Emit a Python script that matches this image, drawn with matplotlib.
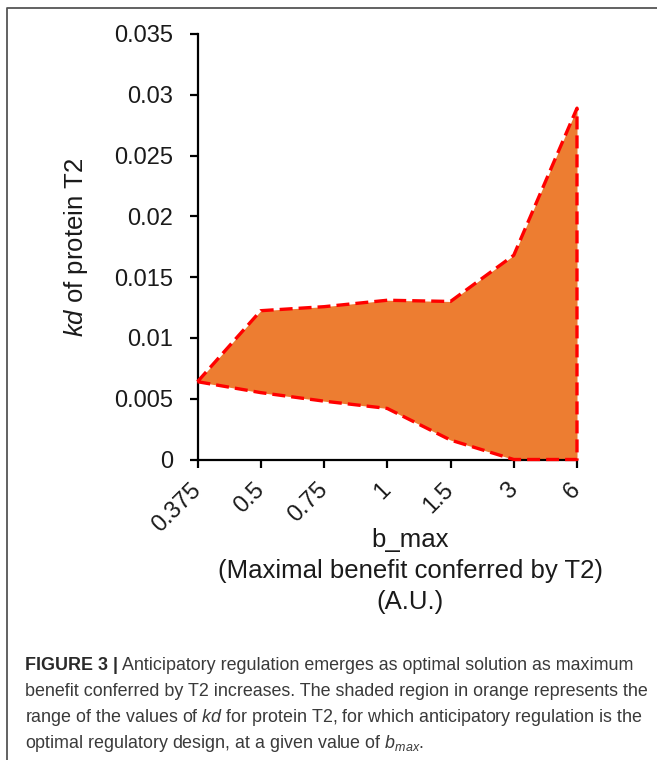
import numpy as np
import matplotlib
matplotlib.use("Agg")
import matplotlib.pyplot as plt
from matplotlib.lines import Line2D

# ---- data ----
categories = ["0.375", "0.5", "0.75", "1", "1.5", "3", "6"]
kd_upper = [0.0064, 0.01224, 0.01257, 0.0131, 0.0130, 0.0168, 0.0289]
kd_lower = [0.0064, 0.0055, 0.0048, 0.0042, 0.0016, 0.0000, 0.0000]
y_ticks = [0, 0.005, 0.01, 0.015, 0.02, 0.025, 0.03, 0.035]
y_ticklabels = ["0", "0.005", "0.01", "0.015", "0.02", "0.025", "0.03", "0.035"]

plt.rcParams['font.family'] = ['Liberation Sans', 'DejaVu Sans']
plt.rcParams['mathtext.fontset'] = 'custom'
plt.rcParams['mathtext.rm'] = 'Liberation Sans'
plt.rcParams['mathtext.it'] = 'Liberation Sans:italic'
plt.rcParams['mathtext.bf'] = 'Liberation Sans:bold'

W, H = 657, 760
fig = plt.figure(figsize=(W / 100, H / 100), dpi=100)
fig.patch.set_facecolor('white')

left, right, bottom, top = 197.5, 577, 459.5, 34
ax = fig.add_axes([left / W, 1 - bottom / H, (right - left) / W, (bottom - top) / H])

x = np.arange(len(categories))
up = np.array(kd_upper)
lo = np.array(kd_lower)

ax.fill_between(x, lo, up, color='#ED7D31', lw=0, zorder=1)
xs = np.concatenate([x, x[::-1]])
ys = np.concatenate([up, lo[::-1]])
ax.plot(xs, ys, color='#FF0000', lw=2.4, linestyle=(0, (3.9, 1.8)),
        clip_on=False, zorder=3, solid_capstyle='butt', dash_capstyle='butt')

ax.set_xlim(0, len(categories) - 1)
ax.set_ylim(0, 0.035)
ax.set_yticks(y_ticks)
ax.set_yticklabels(y_ticklabels, fontsize=17, color='#1a1a1a')
ax.set_xticks(x)
ax.set_xticklabels(categories, fontsize=17, color='#1a1a1a', rotation=45,
                   ha='right', va='center', rotation_mode='anchor')

for s in ['top', 'right']:
    ax.spines[s].set_visible(False)
for s in ['left', 'bottom']:
    ax.spines[s].set_linewidth(1.6)
    ax.spines[s].set_color('black')
ax.tick_params(axis='both', direction='out', length=5.5, width=1.6, color='black')
ax.tick_params(axis='y', pad=12)
ax.tick_params(axis='x', pad=14)

ax.set_ylabel(r"$\it{kd}$ of protein T2", fontsize=18.5, color='#1a1a1a')
ax.yaxis.set_label_coords(-0.284, 0.5)

fig.text(410 / W, 1 - 540 / H, "b_max", ha='center', va='center', fontsize=18.5, color='#1a1a1a')
fig.text(410 / W, 1 - 571 / H, "(Maximal benefit conferred by T2)", ha='center', va='center',
         fontsize=18.5, color='#1a1a1a')
fig.text(410 / W, 1 - 602 / H, "(A.U.)", ha='center', va='center', fontsize=18.5, color='#1a1a1a')

# border
fig.add_artist(Line2D([7 / W, 7 / W, 1.0], [0.0, 1 - 7.5 / H, 1 - 7.5 / H],
                      transform=fig.transFigure, color='#555555', lw=1.3))

# caption
cap_color = '#3a3a3a'
cfs = 12.9
lines_y = [666, 692, 718, 744]
t = fig.text(25 / W, 1 - lines_y[0] / H, "FIGURE 3 |", fontsize=cfs, fontweight='bold',
             color='#2a2a2a', va='center')
plt.annotate(" Anticipatory regulation emerges as optimal solution as maximum",
             xy=(1, 0), xycoords=t, va='bottom', ha='left', fontsize=cfs, color=cap_color,
             annotation_clip=False)
fig.text(25 / W, 1 - lines_y[1] / H,
         "benefit conferred by T2 increases. The shaded region in orange represents the",
         fontsize=cfs, color=cap_color, va='center')
fig.text(25 / W, 1 - lines_y[2] / H,
         r"range of the values of $\it{kd}$ for protein T2, for which anticipatory regulation is the",
         fontsize=cfs, color=cap_color, va='center')
fig.text(25 / W, 1 - lines_y[3] / H,
         r"optimal regulatory design, at a given value of $\it{b}_{\it{max}}$.",
         fontsize=cfs, color=cap_color, va='center')

fig.savefig("out.png", dpi=100, facecolor='white')
